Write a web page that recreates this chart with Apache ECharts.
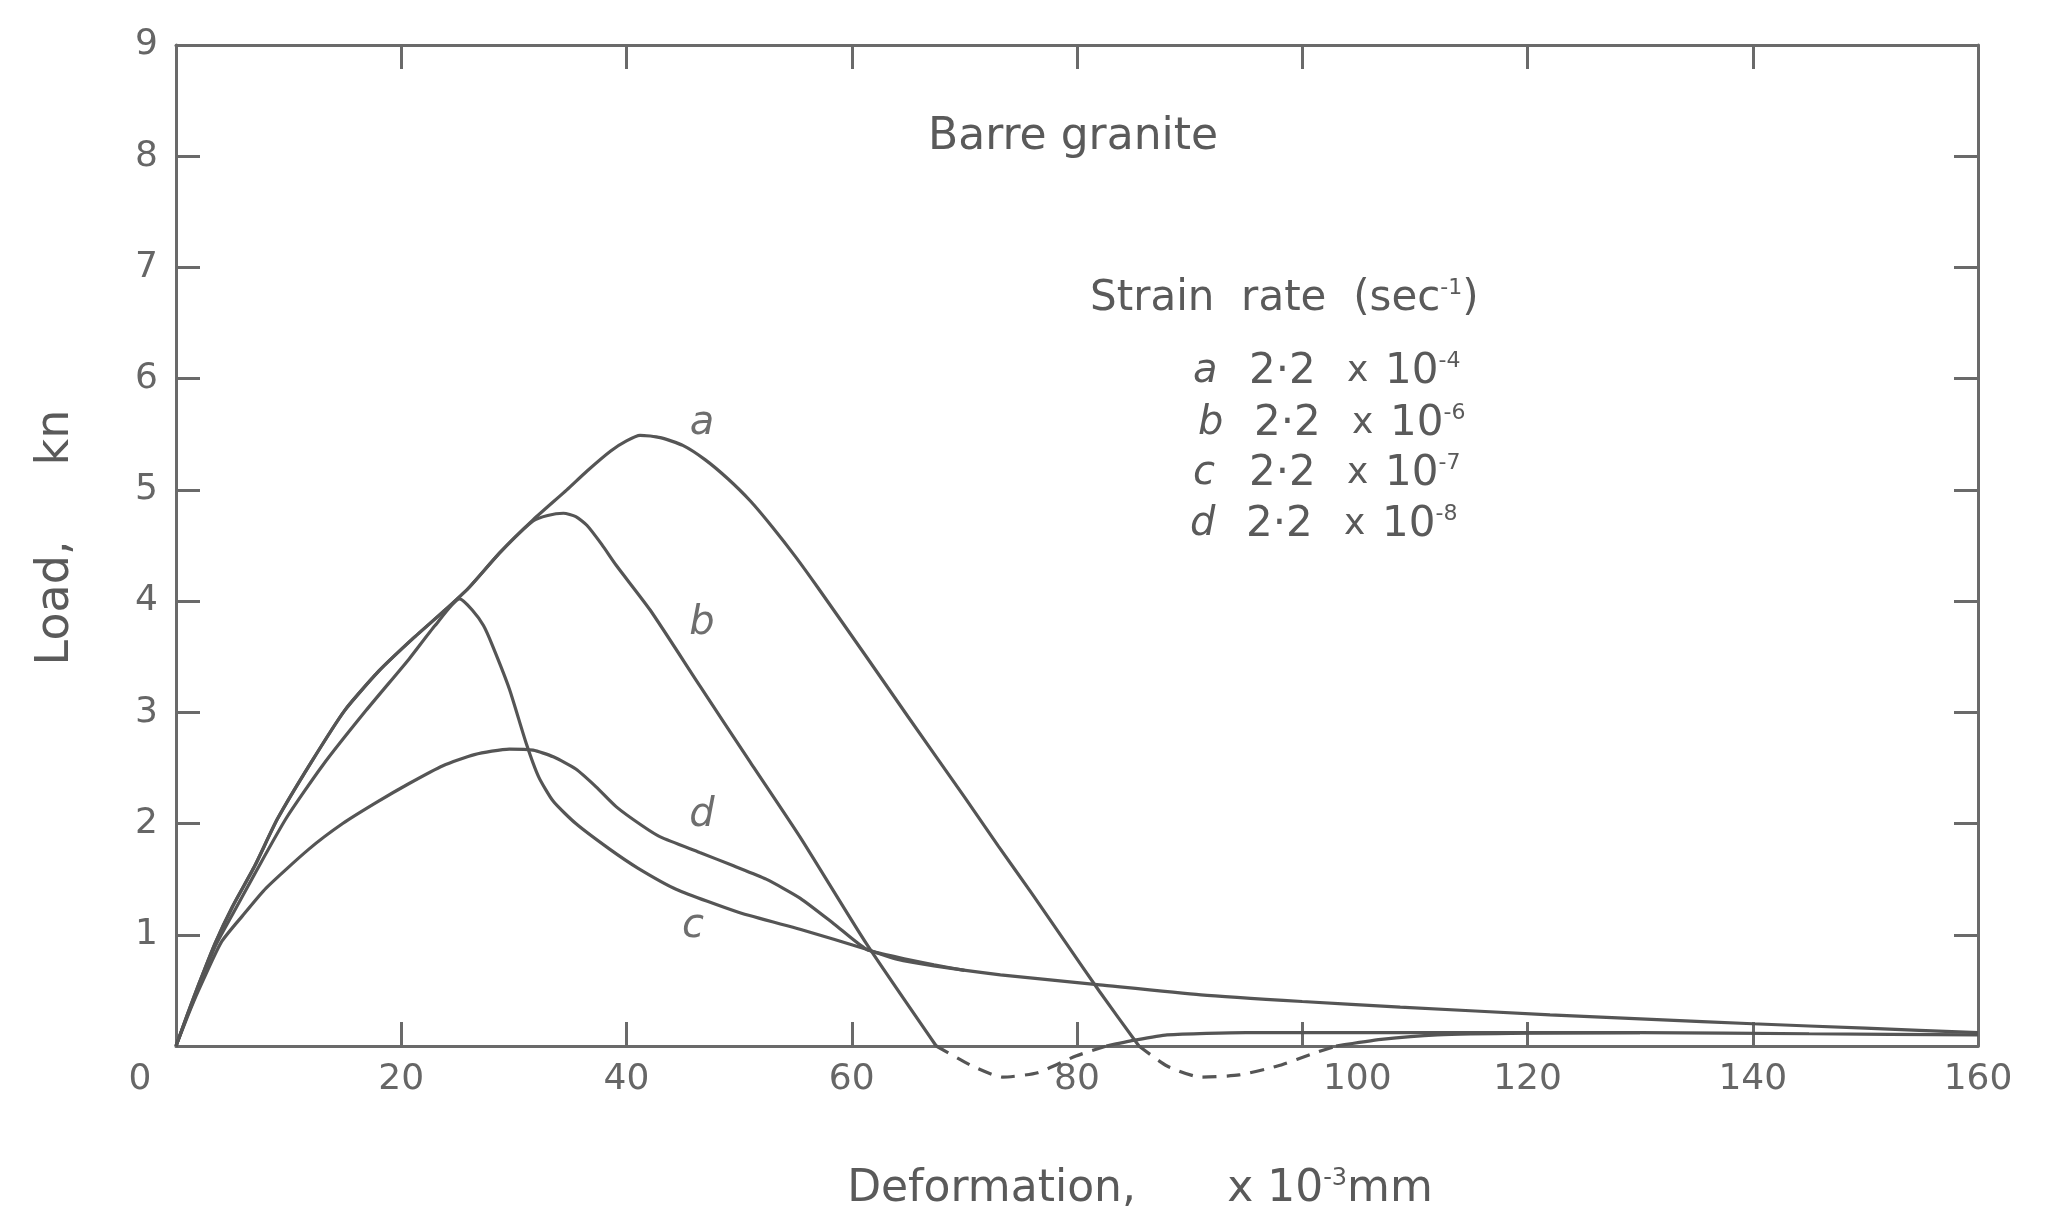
<!DOCTYPE html>
<html><head><meta charset="utf-8">
<script src="https://cdn.jsdelivr.net/npm/echarts@6/dist/echarts.min.js"></script>
<style>html,body{margin:0;padding:0;background:#fff}#c{width:2050px;height:1217px}</style>
</head><body><div id="c"></div>
<script>
// ---- data (deformation x10^-3 mm, load kN) ----
const xTickLabels = ['0','20','40','60','80','100','120','140','160'];
const yTickLabels = ['','1','2','3','4','5','6','7','8','9'];
const curveNames = ['a','b','c','d'];
const curveLabelPos = [[46.7,5.6],[46.7,3.8],[45.9,1.07],[46.7,2.07]];
const legendLetters = ['a','b','c','d'];
const legendMantissa = ['2·2','2·2','2·2','2·2'];
const legendExponent = ['-4','-6','-7','-8'];

const aSolid = [[0,0],[1,0.28],[2,0.55],[3.5,0.93],[5,1.25],[7,1.62],[9,2.04],[12,2.55],[15,3.02],[18,3.37],[21,3.66],[24,3.93],[26,4.12],[28.8,4.44],[31.7,4.73],[34.7,5.0],[36.5,5.17],[38.6,5.35],[40,5.44],[41.2,5.49],[43,5.47],[45,5.4],[47,5.27],[49,5.1],[51,4.9],[53,4.66],[55,4.4],[57,4.12],[61.3,3.5],[65,2.96],[70,2.24],[73,1.8],[76,1.37],[79,0.93],[82,0.49],[85.5,0]];
const aDashed = [[85.5,0],[88,-0.18],[91,-0.28],[94.4,-0.26],[97.8,-0.18],[101.2,-0.06],[103,0]];
const aTail = [[103,0],[107,0.06],[112,0.1],[120,0.115],[130,0.12]];
const bSolid = [[0,0],[1,0.28],[2,0.55],[3.5,0.93],[5,1.25],[7,1.62],[9,2.04],[12,2.55],[15,3.02],[18,3.37],[21,3.66],[24,3.93],[26,4.12],[28.8,4.44],[31.7,4.72],[33,4.77],[34.4,4.79],[35.5,4.76],[36.5,4.68],[37.8,4.51],[39.1,4.32],[42.1,3.92],[46.5,3.24],[51,2.55],[55.4,1.88],[61.3,0.92],[67.5,0]];
const bDashed = [[67.5,0],[70.7,-0.18],[73.4,-0.28],[76.5,-0.24],[79.9,-0.09],[82.6,0]];
const bTail = [[82.6,0],[85,0.05],[88,0.1],[95,0.12],[110,0.12],[130,0.12],[145,0.11],[160,0.1]];
const cLoad = [[0,0],[1,0.27],[2,0.52],[3.5,0.9],[5,1.18],[7,1.55],[9.8,2.05],[13,2.52],[16.9,3.02],[20.7,3.48],[23,3.78],[25.2,4.02],[26.3,3.92],[27.3,3.78],[28.1,3.6],[29.6,3.21],[31.1,2.72],[32.2,2.42],[33.5,2.2],[35.5,2.0],[38.5,1.77],[41,1.6],[44.4,1.41],[50,1.2],[55.4,1.05],[58.4,0.96],[61.3,0.87],[64,0.78],[67.3,0.72],[73.2,0.64],[82,0.55],[91,0.46],[100,0.4],[108.7,0.35],[122,0.28],[131,0.24],[140,0.2],[150,0.16],[160,0.12]];
const dLoad = [[0,0],[1,0.26],[2,0.5],[4,0.93],[5.9,1.17],[8,1.42],[11.8,1.77],[14.8,2.0],[17.8,2.19],[20.7,2.36],[23.7,2.52],[26.5,2.62],[29.6,2.67],[31.7,2.66],[33.5,2.6],[35.5,2.49],[37.3,2.33],[39.1,2.15],[41.4,1.98],[43,1.88],[46.5,1.74],[49.5,1.62],[52.4,1.5],[55.4,1.33],[58.4,1.1],[61.3,0.87],[64,0.8],[67.3,0.73],[70,0.68]];

// ---- styling ----
const INK = '#555555';
const AX = '#6a6a6a';
const TXT = '#5a5a5a';
const FONT = 'DejaVu Sans';
const chart = echarts.init(document.getElementById('c'));

function lineSeries(data, dashed) {
  return {type:'line', data, smooth:0.2, symbol:'none', clip:false, silent:true,
    lineStyle:{color:INK, width:3.2, type: dashed ? [14,10] : 'solid'}};
}
const axisLineStyle = {show:true, onZero:false, lineStyle:{color:AX, width:3}};
const tickStyle = {show:true, inside:true, length:24, lineStyle:{color:AX, width:3}};

chart.setOption({
  backgroundColor:'#fff',
  animation:false,
  grid:{left:176, right:72, top:45, bottom:170, show:false},
  xAxis:[{
    type:'value', min:0, max:160, interval:20, position:'bottom',
    axisLine:axisLineStyle, axisTick:tickStyle, splitLine:{show:false},
    axisLabel:{margin:16, color:'#666', fontFamily:FONT, fontSize:36, showMinLabel:true, showMaxLabel:true,
      formatter:function(v){
        const s = xTickLabels[Math.round(v/20)];
        if (v===0) return '{l|'+s+'}';
        if (v===100) return '{r|'+s+'}';
        return s;
      },
      rich:{l:{fontFamily:FONT,fontSize:36,color:'#666',padding:[0,72,0,0]},
            r:{fontFamily:FONT,fontSize:36,color:'#666',padding:[0,0,0,110]}}},
    name:'{d|Deformation,}{n|x 10}{s|-3}{n|mm}', nameLocation:'middle', nameGap:121,
    nameTextStyle:{padding:[0,0,0,126],
      rich:{d:{fontFamily:FONT,fontSize:44,color:TXT,width:380,align:'left'},
            n:{fontFamily:FONT,fontSize:44,color:TXT},
            s:{fontFamily:FONT,fontSize:24,color:TXT,verticalAlign:'top',padding:[0,0,22,0]}}}
  },{
    type:'value', min:0, max:160, interval:20, position:'top',
    axisLine:axisLineStyle, axisTick:tickStyle, axisLabel:{show:false}, splitLine:{show:false}
  }],
  yAxis:[{
    type:'value', min:0, max:9, interval:1, position:'left',
    axisLine:axisLineStyle, axisTick:tickStyle, splitLine:{show:false},
    axisLabel:{margin:18, color:'#666', fontFamily:FONT, fontSize:36,
      formatter:function(v){ return yTickLabels[Math.round(v)]; }},
    name:'{l|Load,}{k|kn}', nameLocation:'middle', nameRotate:90, nameGap:97,
    nameTextStyle:{padding:[0,0,0,16],
      rich:{l:{fontFamily:FONT,fontSize:46,color:TXT,width:200,align:'left'},
            k:{fontFamily:FONT,fontSize:46,color:TXT}}}
  },{
    type:'value', min:0, max:9, interval:1, position:'right',
    axisLine:axisLineStyle, axisTick:tickStyle, axisLabel:{show:false}, splitLine:{show:false}
  }],
  series:[
    lineSeries(aSolid,false), lineSeries(aDashed,true), lineSeries(aTail,false),
    lineSeries(bSolid,false), lineSeries(bDashed,true), lineSeries(bTail,false),
    lineSeries(cLoad,false), lineSeries(dLoad,false),
    {type:'scatter', symbolSize:0, silent:true,
     data: curveLabelPos.map((p,i)=>[p[0],p[1],curveNames[i]]),
     label:{show:true, position:'inside', formatter:p=>p.data[2], fontFamily:FONT, fontStyle:'italic',
            fontSize:40, color:'#4a4a4a'}}
  ],
  graphic:[
    {type:'text', left:928, top:116, style:{text:'Barre granite', font:'44px "DejaVu Sans"', fill:TXT}},
    {type:'text', left:1090, top:277, style:{
      text:'{n|Strain  rate  (sec}{s|-1}{n|)}',
      rich:{n:{fontFamily:FONT,fontSize:42,fill:TXT},
            s:{fontFamily:FONT,fontSize:22,fill:TXT,verticalAlign:'top',padding:[0,0,22,0]}}}}
  ].concat(legendLetters.map((L,i)=>({
    type:'text', left:[1193,1198,1193,1190][i], top:[350,402,452,503][i],
    style:{
      text:'{i|'+L+'}{n|'+legendMantissa[i]+'}{x|x}{t|10}{s|'+legendExponent[i]+'}',
      rich:{
        i:{fontFamily:FONT,fontSize:40,fontStyle:'italic',fill:TXT,width:56},
        n:{fontFamily:FONT,fontSize:42,fill:TXT,width:98},
        x:{fontFamily:FONT,fontSize:36,fill:TXT,width:38},
        t:{fontFamily:FONT,fontSize:42,fill:TXT},
        s:{fontFamily:FONT,fontSize:22,fill:TXT,verticalAlign:'top',padding:[0,0,22,0]}
      }}
  })))
});
</script></body></html>
